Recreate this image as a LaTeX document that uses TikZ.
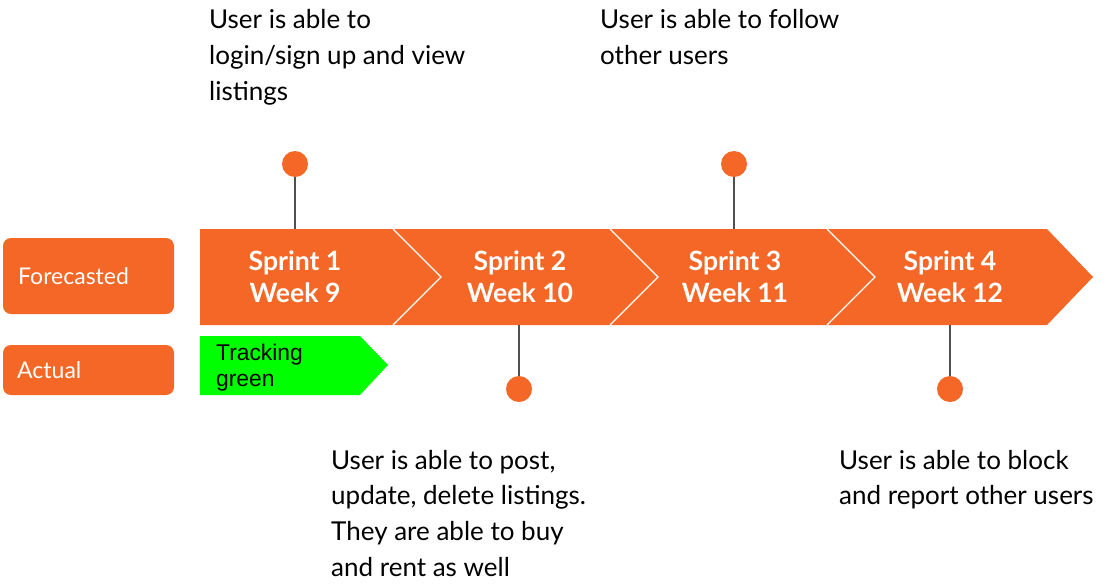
\documentclass[tikz,border=0pt]{standalone}
\usepackage{fontspec}
\setmainfont{Lato}
\newfontfamily\arialfont{Liberation Sans}
\definecolor{sprintorange}{RGB}{244,103,38}
\definecolor{trackgreen}{RGB}{0,255,0}
\definecolor{pinline}{RGB}{80,80,80}
\begin{document}
\begin{tikzpicture}[yscale=-1
            ,bandstyle/.style={fill=sprintorange,draw=none}
            ,sepstyle/.style={draw=white,line width=1.2pt}
            ,labelbox/.style={fill=sprintorange,draw=none,rounded corners=8pt}
            ,pinstyle/.style={draw=pinline,line width=1.5pt}
            ,dotstyle/.style={circle,fill=sprintorange,inner sep=0pt,minimum size=26pt}
            ,sprinttext/.style={anchor=base,text=white,font=\fontsize{26.6}{32}\selectfont\bfseries,inner sep=0pt}
            ,sidetext/.style={anchor=base west,text=white,font=\fontsize{23}{28}\selectfont,inner sep=0pt}
            ,notetext/.style={anchor=base west,text=black,font=\fontsize{26}{36}\selectfont,inner sep=0pt}
            ,greentext/.style={anchor=base west,text=black,font=\arialfont\fontsize{22.8}{26}\selectfont,inner sep=0pt}
        ]
        \useasboundingbox (0pt,0pt) rectangle (1108pt,587pt);
        % row labels
        \draw[labelbox] (3pt,238pt) rectangle (174pt,314pt);
        \node (fc) at (18pt,284pt)[sidetext]{Forecasted};
        \draw[labelbox] (3pt,345pt) rectangle (174pt,395pt);
        \node (ac) at (17pt,378pt)[sidetext]{Actual};
        % forecasted band
        \draw[bandstyle] (200pt,229pt) -- (1047pt,229pt) -- (1093pt,277pt) -- (1047pt,325pt) -- (200pt,325pt) -- cycle;
        \draw[sepstyle] (393pt,229pt) -- (441pt,277pt) -- (393pt,325pt);
        \draw[sepstyle] (610pt,229pt) -- (658pt,277pt) -- (610pt,325pt);
        \draw[sepstyle] (827pt,229pt) -- (875pt,277pt) -- (827pt,325pt);
        \node (s1) at (295pt,270pt)[sprinttext]{Sprint 1};
        \node (w1) at (295pt,302pt)[sprinttext]{Week 9};
        \node (s2) at (520pt,270pt)[sprinttext]{Sprint 2};
        \node (w2) at (520pt,302pt)[sprinttext]{Week 10};
        \node (s3) at (735pt,270pt)[sprinttext]{Sprint 3};
        \node (w3) at (735pt,302pt)[sprinttext]{Week 11};
        \node (s4) at (950pt,270pt)[sprinttext]{Sprint 4};
        \node (w4) at (950pt,302pt)[sprinttext]{Week 12};
        % actual band
        \draw[fill=trackgreen,draw=none] (200pt,336pt) -- (360pt,336pt) -- (388pt,365pt) -- (360pt,395pt) -- (200pt,395pt) -- cycle;
        \node (tr1) at (216pt,360pt)[greentext]{Tracking};
        \node (tr2) at (216pt,386pt)[greentext]{green};
        % pins
        \coordinate (b1) at (295pt,229pt);
        \coordinate (b2) at (519pt,325pt);
        \coordinate (b3) at (734pt,229pt);
        \coordinate (b4) at (950pt,325pt);
        \node (d1) at (295pt,164pt)[dotstyle]{};
        \node (d2) at (519pt,389pt)[dotstyle]{};
        \node (d3) at (734pt,164pt)[dotstyle]{};
        \node (d4) at (950pt,389pt)[dotstyle]{};
        \draw[pinstyle] (d1) -- (b1);
        \draw[pinstyle] (d2) -- (b2);
        \draw[pinstyle] (d3) -- (b3);
        \draw[pinstyle] (d4) -- (b4);
        % notes
        \node (n1a) at (209pt,28pt)[notetext]{User is able to};
        \node (n1b) at (209pt,64pt)[notetext]{login/sign up and view};
        \node (n1c) at (209pt,100pt)[notetext]{listings};
        \node (n3a) at (600pt,28pt)[notetext]{User is able to follow};
        \node (n3b) at (600pt,64pt)[notetext]{other users};
        \node (n2a) at (331pt,469pt)[notetext]{User is able to post,};
        \node (n2b) at (331pt,504pt)[notetext]{update, delete listings.};
        \node (n2c) at (331pt,540pt)[notetext]{They are able to buy};
        \node (n2d) at (331pt,576pt)[notetext]{and rent as well};
        \node (n4a) at (839pt,469pt)[notetext]{User is able to block};
        \node (n4b) at (839pt,504pt)[notetext]{and report other users};
    \end{tikzpicture}
\end{document}
